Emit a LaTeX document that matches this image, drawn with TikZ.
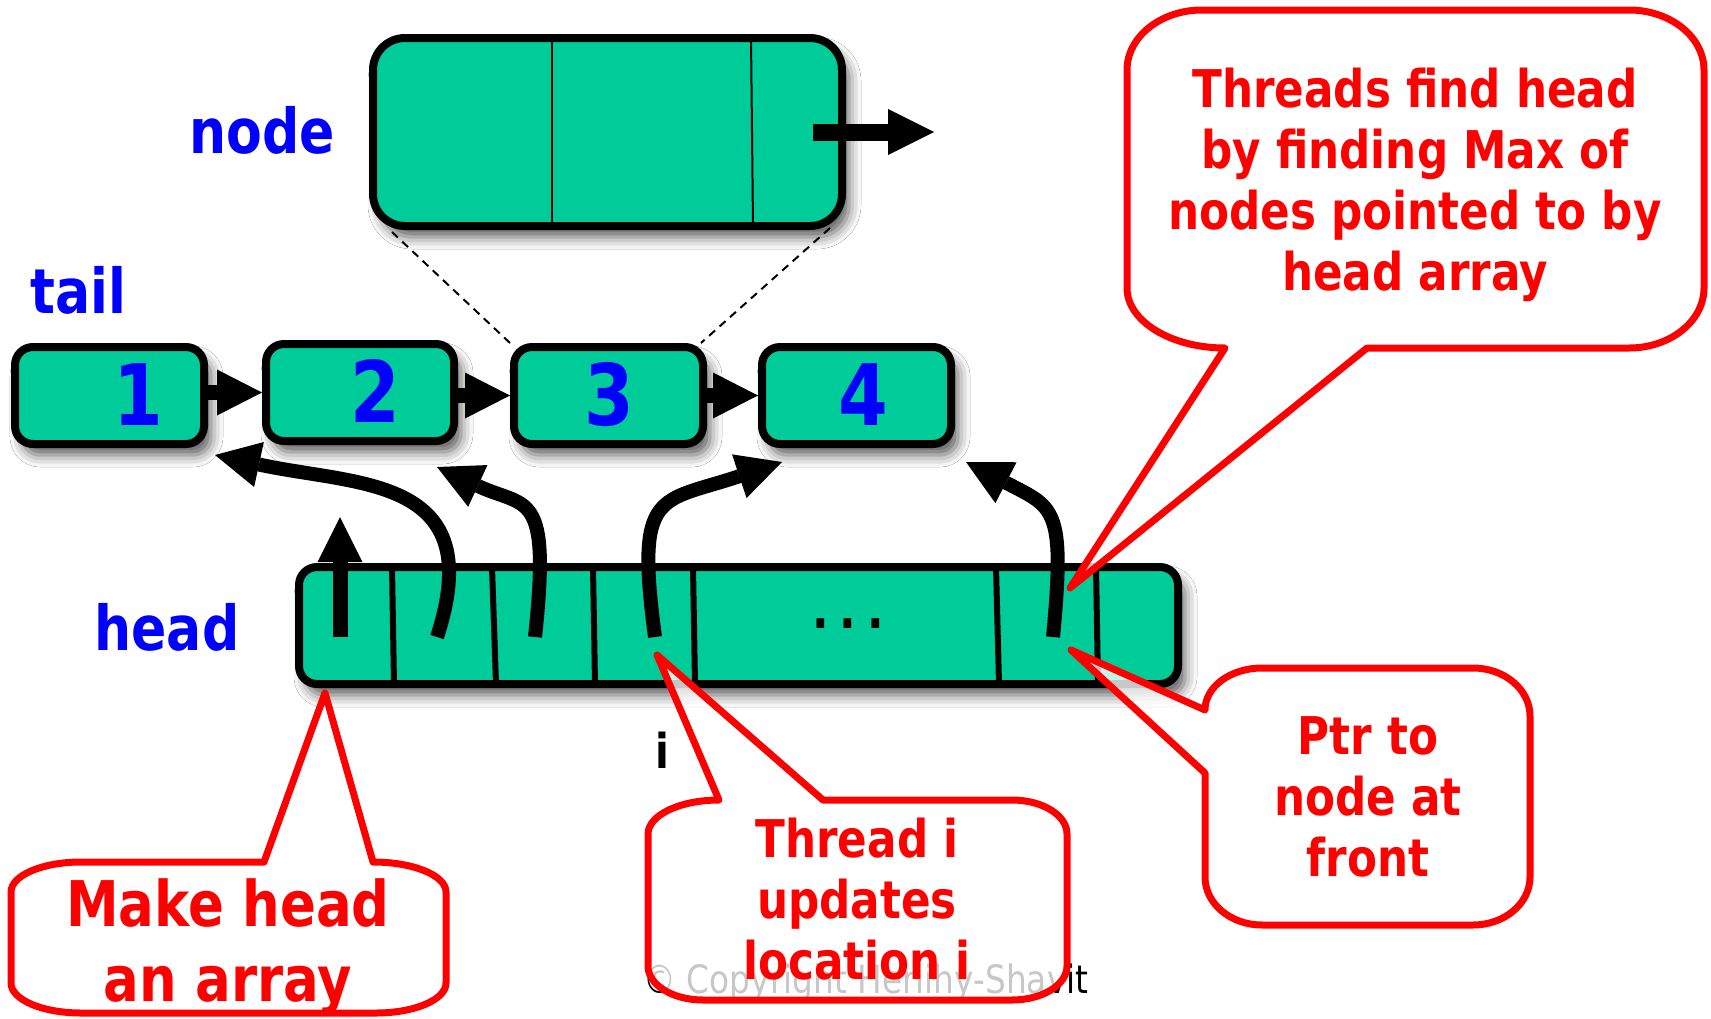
\documentclass[tikz,border=0pt]{standalone}
\usepackage{fontspec}
\setmainfont{DejaVu Sans}[FakeStretch=0.84]
\usetikzlibrary{arrows.meta,shadows.blur}
\definecolor{boxgreen}{RGB}{0,204,153}
\definecolor{pblue}{RGB}{0,0,255}
\definecolor{pred}{RGB}{255,0,0}
\begin{document}
\begin{tikzpicture}[x=1pt,y=-1pt,
  gbox/.style={draw=black, line width=8pt, fill=boxgreen, rounded corners=#1, inner sep=0pt,
    blur shadow={shadow xshift=7pt, shadow yshift=-11pt, shadow blur radius=12pt, shadow opacity=65}},
  lbl/.style={text=pblue, font=\fontsize{62}{70}\selectfont\bfseries, inner sep=0pt, anchor=base},
  num/.style={text=pblue, font=\fontsize{85}{90}\selectfont\bfseries, inner sep=0pt, anchor=base},
  ctext/.style={text=pred, font=\fontsize{52}{61}\selectfont\bfseries, align=center, inner sep=0pt},
  callout/.style={draw=pred, line width=7pt, line join=round, fill=white, fill opacity=0.78},
  divider/.style={draw=black, line width=6pt},
  thin/.style={draw=black, line width=2pt},
  dashline/.style={draw=black, line width=2pt, dash pattern=on 8pt off 6pt},
  linkarrow/.style={draw=black, line width=15pt, -{Triangle[length=45pt,width=46pt,line width=0pt]}},
  nextarrow/.style={draw=black, line width=17pt, -{Triangle[length=46pt,width=46pt,line width=0pt]}},
  harrow/.style={draw=black, line width=14pt, -{Triangle[length=45pt,width=46pt,line width=0pt]}}
]
\fill[white] (0,0) rectangle (1711,1018);
\useasboundingbox (0,0) rectangle (1711,1018);

% big node box
\node[gbox=32, minimum width=469pt, minimum height=188pt] (nodebox) at (607.5,132) {};
\draw[thin] (552,38) -- (552,226);
\draw[thin] (751,38) -- (753,226);
\coordinate (nptr) at (813,132);
\coordinate (nnext) at (934,132);
\draw[nextarrow] (nptr) -- (nnext);

% labels
\node[lbl] (lnode) at (262,153) {node};
\node[lbl] (ltail) at (78,313) {tail};
\node[lbl] (lhead) at (167,650) {head};

% list boxes
\node[gbox=18, minimum width=189pt, minimum height=97pt] (b1) at (109.5,395.5) {};
\node[gbox=18, minimum width=188pt, minimum height=97pt] (b2) at (360,392.5) {};
\node[gbox=18, minimum width=189pt, minimum height=97pt] (b3) at (608.5,395.5) {};
\node[gbox=18, minimum width=189pt, minimum height=97pt] (b4) at (856.5,395.5) {};
\node[num] (n1) at (138,425) {1};
\node[num] (n2) at (375,422) {2};
\node[num] (n3) at (609,425) {3};
\node[num] (n4) at (863,425) {4};
\draw[linkarrow] (b2.west -| b1.east) -- (b2.west);
\draw[linkarrow] (b3.west -| b2.east) -- (b3.west);
\draw[linkarrow] (b3.east) -- (b4.west);

% dashed zoom lines
\draw[dashline] ([xshift=23pt,yshift=-2pt]nodebox.south west) -- (b3.north west);
\draw[dashline] ([xshift=-16pt,yshift=2pt]nodebox.south east) -- ([xshift=-6pt]b3.north east);

% head array
\node[gbox=18, minimum width=879pt, minimum height=117pt] (arr) at (738.5,625.5) {};
\draw[divider] (392,567) -- (394,684);
\draw[divider] (492,567) -- (496,684);
\draw[divider] (593,567) -- (595,684);
\draw[divider] (693,567) -- (695,684);
\draw[divider] (996,567) -- (999,684);
\draw[divider] (1096,567) -- (1098,684);
\node[font=\fontsize{52}{60}\selectfont\bfseries, inner sep=0pt, anchor=base] (dots) at (848,628) {.\kern11pt.\kern11pt.};

% head pointers
\coordinate (s0) at (340,637); \coordinate (e0) at (340,517);
\coordinate (s1) at (437,637); \coordinate (m1) at (259,464.5); \coordinate (e1) at (215,455);
\coordinate (s2) at (535,637); \coordinate (m2) at (478,486); \coordinate (e2) at (437,467);
\coordinate (s3) at (655,637); \coordinate (m3) at (739.3,476.2); \coordinate (e3) at (782,462);
\coordinate (s4) at (1053,637); \coordinate (m4) at (1006,482.7); \coordinate (e4) at (966,462);
\draw[draw=black, line width=15pt, -{Triangle[length=45pt,width=45pt,line width=0pt]}] (s0) -- (e0);
\draw[harrow] (s1) .. controls (490,475) and (357,486) .. (m1) -- (e1);
\draw[harrow] (s2) .. controls (551,488) and (527,508.6) .. (m2) -- (e2);
\draw[harrow] (s3) .. controls (635,488) and (659.3,502.9) .. (m3) -- (e3);
\draw[harrow] (s4) .. controls (1065.6,505.6) and (1053.8,507.7) .. (m4) -- (e4);

% i label and copyright
\node[font=\fontsize{48}{50}\selectfont\bfseries, inner sep=0pt, anchor=base] (ilbl) at (662,768) {i};
\node[font=\fontsize{39}{42}\selectfont, inner sep=0pt, anchor=base] (copy) at (866,993) {© Copyright Herlihy-Shavit};

% callouts
\draw[callout] (1202,10) -- (1629,10) .. controls (1670.4,10) and (1704,36.9) .. (1704,70) -- (1704,288) .. controls (1704,321.1) and (1670.4,348) .. (1629,348) -- (1367,348) -- (1070,588) -- (1225,348) .. controls (1170.9,348) and (1127,321.1) .. (1127,288) -- (1127,70) .. controls (1127,36.9) and (1160.6,10) .. (1202,10) -- cycle;
\node[ctext] (t1) at (1415,185) {Threads find head\\by finding Max of\\nodes pointed to by\\head array};

\draw[callout] (81,862) -- (264,862) -- (325,693) -- (373,862) .. controls (413.3,862) and (446,875.4) .. (446,892) -- (446,983) .. controls (446,999.6) and (414.7,1013) .. (376,1013) -- (81,1013) .. controls (42.3,1013) and (11,999.6) .. (11,983) -- (11,892) .. controls (11,875.4) and (42.3,862) .. (81,862) -- cycle;
\node[ctext, font=\fontsize{63}{75}\selectfont\bfseries] (t2) at (228,947) {Make head\\an array};

\draw[callout] (719,800) -- (657,655) -- (823,800) -- (1012,800) .. controls (1042.4,800) and (1067,815.2) .. (1067,834) -- (1067,966) .. controls (1067,984.8) and (1042.4,1000) .. (1012,1000) -- (703,1000) .. controls (672.6,1000) and (648,984.8) .. (648,966) -- (648,834) .. controls (648,815.2) and (679.8,800) .. (719,800) -- cycle;
\node[ctext] (t3) at (857,899) {Thread i\\updates\\location i};

\draw[callout] (1262,668) -- (1473,668) .. controls (1504.5,668) and (1530,689.5) .. (1530,716) -- (1530,877) .. controls (1530,903.5) and (1504.5,925) .. (1473,925) -- (1262,925) .. controls (1230.5,925) and (1205,903.5) .. (1205,877) -- (1205,773) -- (1071,650) -- (1205,710) .. controls (1205,686.8) and (1230.5,668) .. (1262,668) -- cycle;
\node[ctext] (t4) at (1368,797) {Ptr to\\node at\\front};
\end{tikzpicture}
\end{document}
